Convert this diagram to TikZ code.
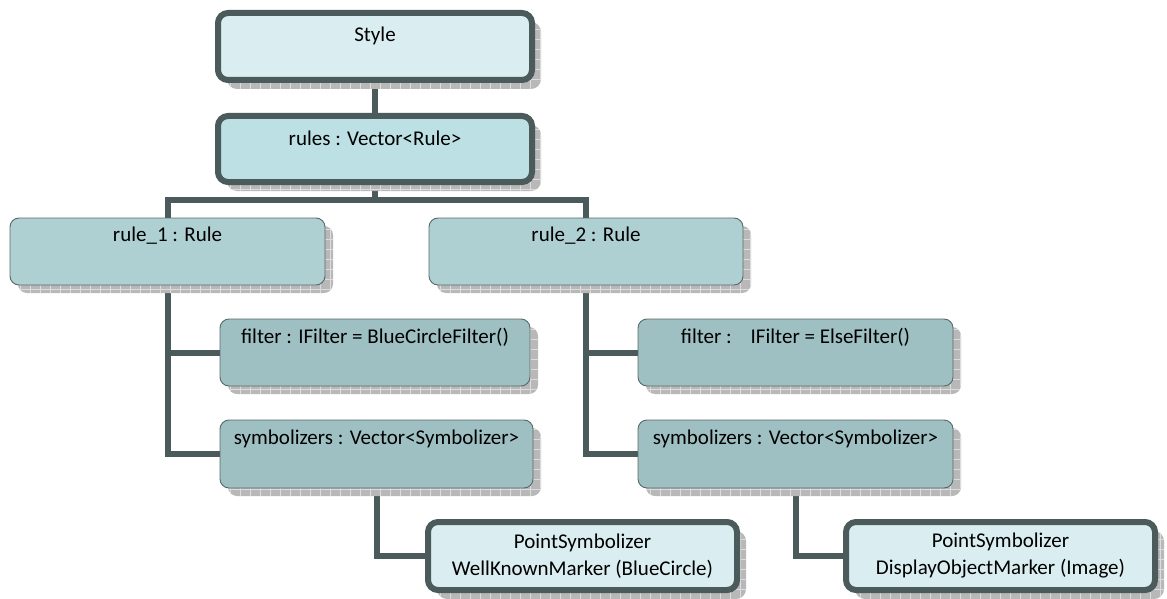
\documentclass[tikz,border=0pt]{standalone}
\usepackage{fontspec}
\setmainfont{Carlito}
\usetikzlibrary{shadows,backgrounds,patterns.meta}

\definecolor{edge}{HTML}{4B5A5A}
\definecolor{thinedge}{HTML}{5A6868}
\definecolor{paleblue}{HTML}{DAEDF0}
\definecolor{midblue}{HTML}{BCE0E4}
\definecolor{ruleblue}{HTML}{AED0D2}
\definecolor{itemblue}{HTML}{9FC0C2}
\definecolor{shade}{HTML}{B8B8B8}
\definecolor{shadegrid}{HTML}{DCDCDC}

\tikzset{
  every node/.style={font=\fontsize{21}{27}\selectfont},
  boxbase/.style={rectangle, inner sep=0pt, text=black},
  meshshadow/.style={general shadow={shadow xshift=#1, shadow yshift=-#1, fill=shade,
    postaction={pattern={Hatch[angle=0, distance=10pt, line width=0.8pt]},
      pattern color=shadegrid}}},
  heavybox/.style={boxbase, draw=edge, line width=6pt, rounded corners=10pt,
    meshshadow=9pt},
  lightbox/.style={boxbase, draw=thinedge, line width=0.9pt, rounded corners=9pt,
    meshshadow=8pt},
  conn/.style={draw=edge, line width=6pt},
}

\begin{document}
\begin{tikzpicture}[x=1pt, y=-1pt]
\useasboundingbox (0,0) rectangle (1167,599);

% style object and its rule list
\node[heavybox, fill=paleblue, minimum width=314pt, minimum height=67pt,
  label={[anchor=center, yshift=-26pt, inner sep=0pt]north:Style}]
  (style) at (375,46.5) {};
\node[heavybox, fill=midblue, minimum width=314pt, minimum height=66pt,
  label={[anchor=center, yshift=-25pt, inner sep=0pt]north:rules : Vector<Rule>}]
  (rules) at (375,149) {};

% the two rules
\node[lightbox, fill=ruleblue, minimum width=315pt, minimum height=67pt,
  label={[anchor=center, yshift=-18pt, inner sep=0pt]north:rule\_1 : Rule}]
  (rule1) at (167.5,251.5) {};
\node[lightbox, fill=ruleblue, minimum width=314pt, minimum height=67pt,
  label={[anchor=center, yshift=-18pt, inner sep=0pt]north:rule\_2 : Rule}]
  (rule2) at (586,251.5) {};

% members of rule_1
\node[lightbox, fill=itemblue, minimum width=310pt, minimum height=67pt,
  label={[anchor=center, yshift=-19pt, inner sep=0pt]north:filter : IFilter = BlueCircleFilter()}]
  (filter1) at (375,352.5) {};
\node[lightbox, fill=itemblue, minimum width=313pt, minimum height=68pt,
  label={[anchor=center, yshift=-19pt, inner sep=0pt]north:symbolizers : Vector<Symbolizer>}]
  (sym1) at (376.5,454) {};

% members of rule_2
\node[lightbox, fill=itemblue, minimum width=315pt, minimum height=67pt,
  label={[anchor=center, yshift=-19pt, inner sep=0pt]north:filter :\hspace{0.9em}IFilter = ElseFilter()}]
  (filter2) at (795.5,352.5) {};
\node[lightbox, fill=itemblue, minimum width=315pt, minimum height=68pt,
  label={[anchor=center, yshift=-19pt, inner sep=0pt]north:symbolizers : Vector<Symbolizer>}]
  (sym2) at (795.5,454) {};

% point symbolizers
\node[heavybox, fill=paleblue, minimum width=309pt, minimum height=68pt, align=center]
  (point1) at (582.5,556) {PointSymbolizer\\WellKnownMarker (BlueCircle)};
\node[heavybox, fill=paleblue, minimum width=309pt, minimum height=68pt, align=center]
  (point2) at (1000.5,556) {PointSymbolizer\\DisplayObjectMarker (Image)};

\coordinate (bus) at (375,200);

\begin{pgfonlayer}{background}
  \draw[conn] (style) -- (rules);
  \draw[conn] (rules) -- (bus);
  \draw[conn] (rule1) |- (bus) -| (rule2);
  \draw[conn] (rule1.south) |- (filter1.west);
  \draw[conn] (rule1.south) |- (sym1.west);
  \draw[conn] (rule2.south) |- (filter2.west);
  \draw[conn] (rule2.south) |- (sym2.west);
  \draw[conn] (sym1.south) |- (point1.west);
  \draw[conn] (sym2.south) |- (point2.west);
\end{pgfonlayer}
\end{tikzpicture}
\end{document}
